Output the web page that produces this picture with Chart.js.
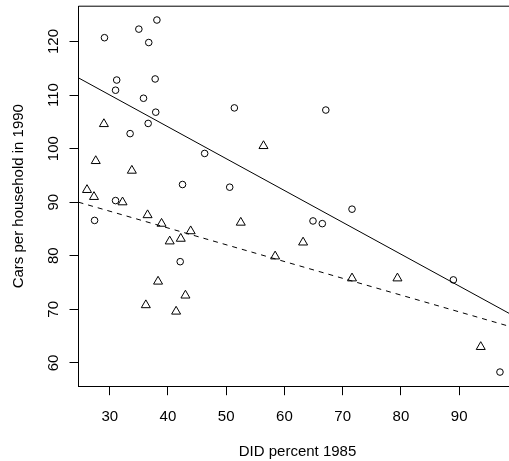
<!DOCTYPE html>
<html>
<head>
<meta charset="utf-8">
<script src="https://cdn.jsdelivr.net/npm/chart.js"></script>
<style>
  html, body { margin: 0; padding: 0; background: #fff; overflow: hidden; }
  #wrap { width: 525px; height: 461px; }
</style>
</head>
<body>
<div id="wrap"><canvas id="c" width="525" height="461" style="width:525px;height:461px"></canvas></div>
<script>
// ---- data ----
const circleX = [29.1, 35.0, 38.1, 36.7, 31.2, 31.0, 37.8, 35.8, 37.9, 36.6, 33.5, 51.4, 46.3, 42.5, 50.6, 67.1, 71.6, 64.9, 66.5, 89.0, 97.0, 31.0, 27.4, 42.1];
const circleY = [120.7, 122.3, 124.0, 119.8, 112.8, 110.9, 113.0, 109.4, 106.8, 104.7, 102.8, 107.6, 99.1, 93.3, 92.8, 107.2, 88.7, 86.5, 86.0, 75.5, 58.3, 90.3, 86.6, 78.9];

const triangleX = [29.0, 27.6, 33.8, 56.4, 26.1, 27.3, 32.2, 36.5, 38.9, 43.9, 40.3, 42.2, 52.5, 58.4, 38.3, 43.0, 36.2, 41.4, 63.2, 71.6, 79.4, 93.7];
const triangleY = [104.6, 97.7, 95.9, 100.5, 92.3, 91.0, 90.0, 87.6, 86.0, 84.6, 82.7, 83.2, 86.2, 79.9, 75.2, 72.6, 70.8, 69.6, 82.5, 75.8, 75.8, 63.0];

const solidLineX = [24.64, 99.84];
const solidLineY = [113.2, 68.5];
const dashedLineX = [24.64, 99.84];
const dashedLineY = [90.0, 66.45];

const xTickValues = [30, 40, 50, 60, 70, 80, 90];
const yTickValues = [60, 70, 80, 90, 100, 110, 120];

const xTitle = 'DID percent 1985';
const yTitle = 'Cars per household in 1990';
// --------------------------------------

const pts = (xs, ys) => xs.map((x, i) => ({x: x, y: ys[i]}));
const FONT = {family: '"Liberation Sans", Arial, sans-serif', size: 15};

const boxPlugin = {
  id: 'box',
  afterDraw(chart) {
    const {ctx, chartArea: a} = chart;
    ctx.save();
    ctx.strokeStyle = '#000';
    ctx.lineWidth = 1;
    ctx.beginPath();
    ctx.moveTo(a.left, a.top);
    ctx.lineTo(a.right, a.top);
    ctx.lineTo(a.right, a.bottom);
    ctx.stroke();
    ctx.restore();
  }
};

new Chart(document.getElementById('c'), {
  type: 'scatter',
  data: {
    datasets: [
      {
        data: pts(circleX, circleY),
        pointStyle: 'circle',
        pointRadius: 3.3,
        pointBorderWidth: 1,
        borderColor: '#000',
        backgroundColor: 'rgba(0,0,0,0)',
        showLine: false
      },
      {
        data: pts(triangleX, triangleY),
        pointStyle: 'triangle',
        pointRadius: 5.2,
        pointBorderWidth: 1,
        borderColor: '#000',
        backgroundColor: 'rgba(0,0,0,0)',
        showLine: false
      },
      {
        data: pts(solidLineX, solidLineY),
        showLine: true,
        pointRadius: 0,
        borderColor: '#000',
        borderWidth: 1,
        fill: false
      },
      {
        data: pts(dashedLineX, dashedLineY),
        showLine: true,
        pointRadius: 0,
        borderColor: '#000',
        borderWidth: 1,
        borderDash: [5, 5],
        fill: false
      }
    ]
  },
  options: {
    responsive: false,
    devicePixelRatio: 1,
    animation: false,
    events: [],
    layout: { padding: { left: 0, top: 3.5, right: 8.5, bottom: 0 } },
    plugins: { legend: { display: false }, tooltip: { enabled: false } },
    scales: {
      x: {
        type: 'linear',
        min: 24.64,
        max: 99.84,
        afterBuildTicks: s => { s.ticks = xTickValues.map(v => ({value: v})); },
        afterFit: s => { s.height = 74.8; s.paddingLeft = 0; s.paddingRight = 0; },
        grid: { drawOnChartArea: false, drawTicks: true, tickLength: 9, tickColor: '#000', tickWidth: 1 },
        border: { display: true, color: '#000', width: 1 },
        ticks: { color: '#000', font: FONT, padding: 12.5, autoSkip: false, maxRotation: 0, minRotation: 0 },
        title: { display: true, text: xTitle, color: '#000', font: FONT, padding: { top: 0, bottom: 0 } }
      },
      y: {
        type: 'linear',
        min: 55.66,
        max: 126.58,
        afterBuildTicks: s => { s.ticks = yTickValues.map(v => ({value: v})); },
        afterFit: s => { s.width = 78.5; s.paddingTop = 0; s.paddingBottom = 0; },
        grid: { drawOnChartArea: false, drawTicks: true, tickLength: 9, tickColor: '#000', tickWidth: 1 },
        border: { display: true, color: '#000', width: 1 },
        ticks: { color: '#000', font: FONT, padding: 3, autoSkip: false, minRotation: 90, maxRotation: 90, crossAlign: 'center' },
        title: { display: true, text: yTitle, color: '#000', font: FONT, padding: { top: 10, bottom: 0 } }
      }
    }
  },
  plugins: [boxPlugin]
});
</script>
</body>
</html>
